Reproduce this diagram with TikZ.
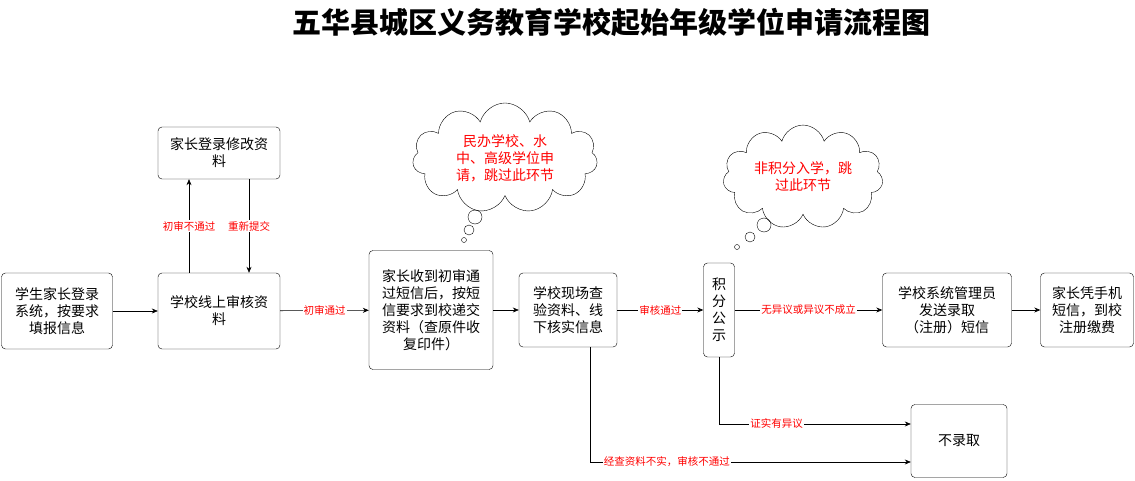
\documentclass[tikz,border=0pt]{standalone}
\usepackage{fontspec}
\setmainfont{Noto Sans CJK SC}
\usetikzlibrary{shapes.symbols,arrows.meta}
\begin{document}
\begin{tikzpicture}[x=1pt,y=-1pt,
 box/.style={draw,rounded corners=4pt,align=center,font=\fontsize{14}{17}\selectfont,inner sep=2pt},
 lab/.style={text=red,font=\fontsize{10.5}{12}\selectfont,fill=white,inner sep=1pt},
 arr/.style={-{Stealth[length=6pt,width=5pt]},line width=0.6pt},
 cl/.style={cloud,cloud puffs=11,draw,aspect=1.8,text=red,align=center,font=\fontsize{14}{17}\selectfont,inner sep=0pt}]
\useasboundingbox (0,0) rectangle (1135,481);
\node[font=\bfseries\fontsize{29}{32}\selectfont] (t) at (611,22) {五华县城区义务教育学校起始年级学位申请流程图};
\node[box,minimum width=111,minimum height=76] (A) at (57,311) {学生家长登录\\系统，按要求\\填报信息};
\node[box,minimum width=122,minimum height=76] (B) at (219,311) {学校线上审核资\\料};
\node[box,minimum width=122,minimum height=52] (C) at (219,153) {家长登录修改资\\料};
\node[box,minimum width=124,minimum height=119] (D) at (431,310) {家长收到初审通\\过短信后，按短\\信要求到校递交\\资料（查原件收\\复印件）};
\node[box,minimum width=98,minimum height=74] (E) at (568,310) {学校现场查\\验资料、线\\下核实信息};
\node[box,minimum width=31,minimum height=94,text width=16] (F) at (719,310) {积\\分\\公\\示};
\node[box,minimum width=129,minimum height=74] (G) at (947,310) {学校系统管理员\\发送录取\\（注册）短信};
\node[box,minimum width=93,minimum height=74] (H) at (1087,310) {家长凭手机\\短信，到校\\注册缴费};
\node[box,minimum width=96,minimum height=73] (I) at (959,441) {不录取};
\node[cl,minimum width=185,minimum height=110] (c1) at (505,158) {民办学校、水\\中、高级学位申\\请，跳过此环节};
\node[cl,minimum width=160,minimum height=80] (c2) at (803,177) {非积分入学，跳\\过此环节};
\draw (475,217) circle (7); \draw (469,230) circle (5); \draw (464,240) circle (2.5);
\draw (764,225) circle (7); \draw (750,237) circle (5); \draw (737,247) circle (2.5);
\draw[arr] (A) -- (B);
\draw[arr] (B.north-|189,0) -- node[lab]{初审不通过} (C.south-|189,0);
\draw[arr] (C.south-|249,0) -- node[lab]{重新提交} (B.north-|249,0);
\draw[arr] (B) -- node[lab]{初审通过} (D);
\draw[arr] (D) -- (E);
\draw[arr] (E) -- node[lab]{审核通过} (F);
\draw[arr] (F) -- node[lab]{无异议或异议不成立} (G);
\draw[arr] (G) -- (H);
\draw[arr] (F.south) |- node[lab,pos=0.65]{证实有异议} (I.west|-0,424);
\draw[arr] (E.south-|590,0) |- node[lab,pos=0.62]{经查资料不实，审核不通过} (I.west|-0,462);
\end{tikzpicture}
\end{document}
